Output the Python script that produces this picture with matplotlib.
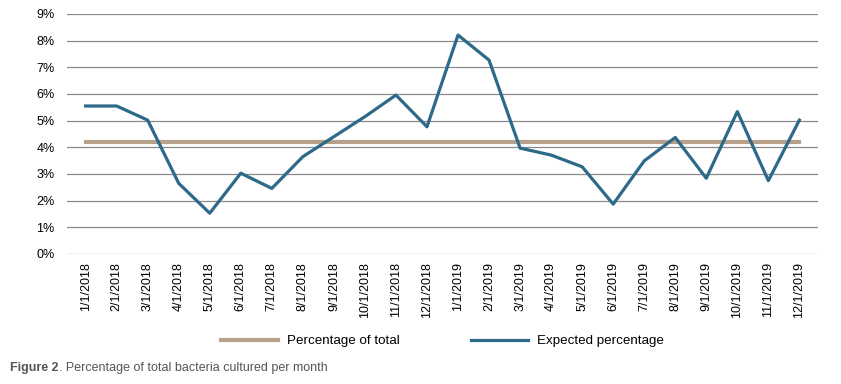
import matplotlib.pyplot as plt
from matplotlib.ticker import FuncFormatter

months = ["1/1/2018", "2/1/2018", "3/1/2018", "4/1/2018", "5/1/2018", "6/1/2018",
          "7/1/2018", "8/1/2018", "9/1/2018", "10/1/2018", "11/1/2018", "12/1/2018",
          "1/1/2019", "2/1/2019", "3/1/2019", "4/1/2019", "5/1/2019", "6/1/2019",
          "7/1/2019", "8/1/2019", "9/1/2019", "10/1/2019", "11/1/2019", "12/1/2019"]
expected = [5.55, 5.55, 5.02, 2.65, 1.53, 3.03, 2.46, 3.65, 4.4, 5.15, 5.96, 4.77,
            8.21, 7.27, 3.97, 3.71, 3.27, 1.87, 3.49, 4.37, 2.84, 5.34, 2.75, 5.02]
pct_total = [4.21] * len(months)
yticks = list(range(0, 10))

plt.rcParams['font.family'] = ['Liberation Sans', 'DejaVu Sans']

fig = plt.figure(figsize=(8.41, 3.84), dpi=100)
ax = fig.add_axes([67 / 841, 1 - 254 / 384, (818 - 67) / 841, 240 / 384])

x = list(range(len(months)))
ax.plot(x, pct_total, color='#B8A18A', lw=3.0, label='Percentage of total', zorder=3)
ax.plot(x, expected, color='#2D6A89', lw=2.3, label='Expected percentage', zorder=4)

ax.set_xlim(-0.6, len(months) - 0.4)
ax.set_ylim(0, 9)
ax.set_yticks(yticks)
ax.yaxis.set_major_formatter(FuncFormatter(lambda v, p: f"{int(v)}%"))
ax.set_xticks(x)
ax.set_xticklabels(months, rotation=90, fontsize=9)
ax.tick_params(axis='y', labelsize=9, length=0, pad=9)
ax.tick_params(axis='x', length=0, pad=6)
ax.grid(axis='y', color='#8a8a8a', lw=0.9)
ax.set_axisbelow(True)
for s in ax.spines.values():
    s.set_visible(False)

ax.legend(loc='center', bbox_to_anchor=(0.5, -0.3625), ncol=2, frameon=False,
          fontsize=9.6, handlelength=4.3, columnspacing=5.3, handletextpad=0.7)

t1 = fig.text(10 / 841, 1 - 368 / 384, "Figure 2", fontsize=9, fontweight='bold',
              color='#555555', va='center')
fig.canvas.draw()
bb = t1.get_window_extent()
fig.text(bb.x1 / 841, 1 - 368 / 384, ". Percentage of total bacteria cultured per month",
         fontsize=9, color='#555555', va='center')

fig.savefig('out.png', dpi=100)
